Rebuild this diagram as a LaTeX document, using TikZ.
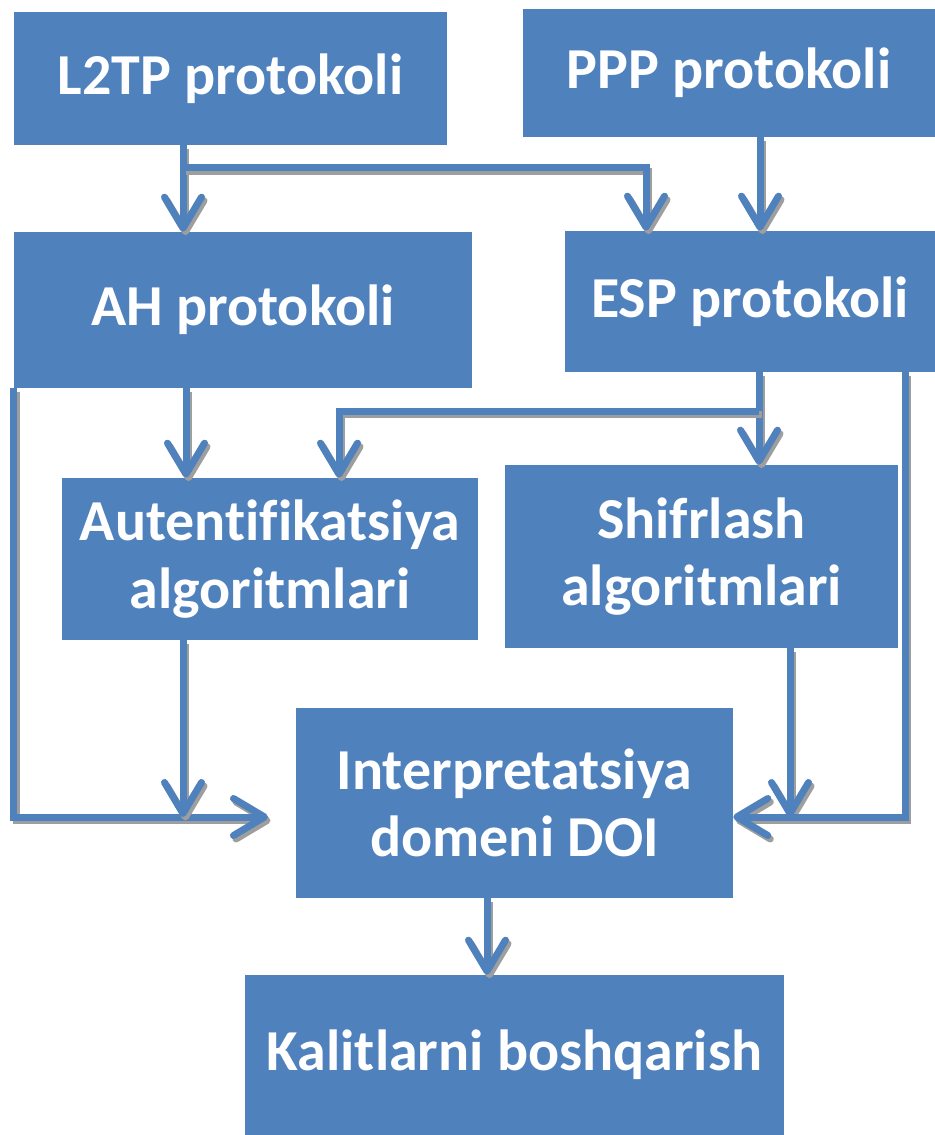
\documentclass[tikz,border=0pt]{standalone}
\usepackage{fontspec}
\setmainfont{Carlito}[Ligatures={NoCommon}]
\usetikzlibrary{arrows.meta, calc}
\definecolor{boxblue}{HTML}{4F81BD}

\begin{document}
\begin{tikzpicture}[x=0.02cm, y=-0.02cm,
    >={Straight Barb[length=0.62cm, width=0.74cm, round]},
    box/.style={fill=boxblue, text=white, font=\fontsize{33}{38.5}\selectfont\bfseries,
      align=center, inner sep=0pt},
    conn/.style={->, draw=boxblue, line width=0.14cm,
      preaction={->, draw=black!38, line width=0.14cm,
        transform canvas={shift={(0.05cm,-0.07cm)}}}}]
      \useasboundingbox (0,0) rectangle (935,1135);

      % Nodes
      \node[box, minimum width=8.66cm, minimum height=2.66cm] (l2tp) at (230.5, 78.5) {L2TP protokoli};
      \node[box, minimum width=8.24cm, minimum height=2.56cm] (ppp)  at (729, 73)     {PPP protokoli};
      \node[box, minimum width=9.16cm, minimum height=3.12cm] (ah)   at (243, 310)    {AH protokoli};
      \node[box, minimum width=7.40cm, minimum height=2.82cm] (esp)  at (750, 301.5)  {ESP protokoli};
      \node[box, minimum width=8.32cm, minimum height=3.24cm] (auth) at (270, 559)    {Autentifikatsiya\\algoritmlari};
      \node[box, minimum width=7.86cm, minimum height=3.66cm] (shif) at (701.5, 556.5){Shifrlash\\algoritmlari};
      \node[box, minimum width=8.74cm, minimum height=3.80cm] (doi)  at (514.5, 803)  {Interpretatsiya\\domeni DOI};
      \node[box, minimum width=10.78cm, minimum height=3.20cm] (kal) at (514.5, 1055) {Kalitlarni boshqarish};

      % Junctions
      \coordinate (j1)  at (183, 168);
      \coordinate (j2)  at (759, 411);
      \coordinate (inL) at (268, 817);

      % Edges
      \draw[conn] (l2tp.south -| 183,0) -- (ah.north -| 183,0);
      \draw[conn] (j1) -| (esp.north -| 646,0);
      \draw[conn] (ppp.south -| 760,0) -- (esp.north -| 760,0);
      \draw[conn] (esp.south -| 759,0) -- (shif.north -| 759,0);
      \draw[conn] (j2) -| (auth.north -| 339,0);
      \draw[conn] (ah.south -| 186,0) -- (auth.north -| 186,0);
      \draw[conn] (ah.south west) |- (inL);
      \draw[conn] (auth.south -| 183,0) -- (inL -| 183,0);
      \draw[conn] (shif.south -| 790,0) -- (inL -| 790,0);
      \draw[conn] (esp.south -| 905,0) |- (doi.east |- inL);
      \draw[conn] (doi.south -| 487,0) -- (kal.north -| 487,0);
    \end{tikzpicture}
\end{document}
